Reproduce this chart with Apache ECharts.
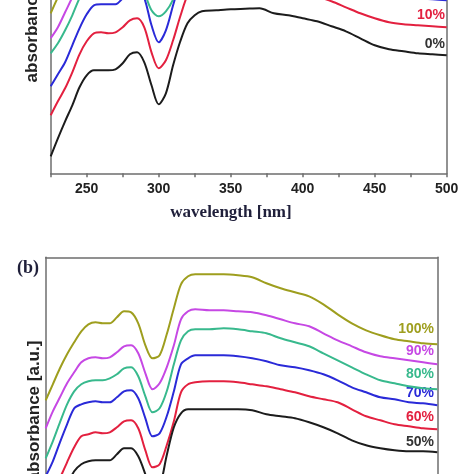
<!DOCTYPE html>
<html><head><meta charset="utf-8">
<script src="https://cdn.jsdelivr.net/npm/echarts@6/dist/echarts.min.js"></script>
<style>html,body{margin:0;padding:0;background:#fff}#c{width:474px;height:474px}</style>
</head><body><div id="c"></div>
<script>
// wavelengths [nm] shared by all curves
const wavelengths = [225,230,235,240,245,250,255,260,265,270,275,280,285,290,295,300,305,310,315,320,325,330,340,350,360,370,380,390,400,410,420,430,440,450,460,470,480,490,500];
const xTicks = [250,300,350,400,450,500];

// panel (a)
const a0  = [0.17,0.35,0.52,0.68,0.86,0.98,1.03,1.03,1.03,1.04,1.10,1.19,1.21,1.11,0.88,0.69,0.80,1.08,1.32,1.50,1.58,1.62,1.63,1.64,1.645,1.65,1.60,1.58,1.55,1.52,1.47,1.42,1.35,1.28,1.24,1.22,1.20,1.19,1.18];
const a10 = [0.58,0.72,0.85,1.01,1.19,1.32,1.40,1.41,1.40,1.41,1.46,1.53,1.55,1.46,1.21,1.05,1.13,1.33,1.57,1.78,1.88,1.92,1.94,1.95,1.95,1.95,1.92,1.89,1.84,1.77,1.72,1.66,1.60,1.55,1.51,1.49,1.48,1.47,1.46];
const a20 = [0.87,0.99,1.11,1.28,1.45,1.59,1.68,1.69,1.69,1.69,1.75,1.82,1.85,1.75,1.48,1.31,1.43,1.68,1.92,2.08,2.17,2.21,2.23,2.24,2.24,2.24,2.21,2.18,2.13,2.06,2.00,1.94,1.88,1.83,1.79,1.76,1.75,1.74,1.73];
const a30 = [1.20,1.30,1.43,1.58,1.75,1.87,1.95,1.97,1.97,1.98,2.03,2.08,2.05,1.82,1.63,1.57,1.62,1.74,1.97,2.25,2.45,2.49,2.51,2.52,2.52,2.52,2.49,2.46,2.41,2.34,2.28,2.22,2.16,2.11,2.07,2.04,2.03,2.02,2.01];
const a40 = [1.35,1.46,1.61,1.76,1.92,2.04,2.11,2.13,2.13,2.14,2.19,2.26,2.29,2.19,1.96,1.85,1.90,2.06,2.30,2.51,2.62,2.66,2.68,2.69,2.69,2.69,2.66,2.63,2.58,2.51,2.45,2.39,2.33,2.28,2.24,2.21,2.20,2.19,2.18];
const a50 = [1.60,1.76,1.90,2.05,2.20,2.32,2.39,2.41,2.41,2.42,2.47,2.54,2.57,2.47,2.24,2.10,2.16,2.34,2.58,2.79,2.90,2.94,2.96,2.97,2.97,2.97,2.94,2.91,2.86,2.79,2.73,2.67,2.61,2.56,2.52,2.49,2.48,2.47,2.46];

// panel (b)
const b50  = [0.70,0.88,1.05,1.22,1.36,1.43,1.46,1.47,1.47,1.47,1.53,1.59,1.59,1.51,1.33,1.12,1.20,1.52,1.80,1.94,1.98,1.98,1.98,1.98,1.98,1.97,1.93,1.91,1.89,1.85,1.80,1.74,1.67,1.62,1.59,1.57,1.56,1.56,1.55];
const b60  = [0.97,1.13,1.29,1.45,1.60,1.71,1.73,1.75,1.74,1.75,1.80,1.86,1.87,1.79,1.57,1.40,1.43,1.62,1.86,2.15,2.23,2.25,2.26,2.26,2.25,2.23,2.21,2.18,2.15,2.11,2.08,2.05,1.98,1.91,1.87,1.83,1.81,1.79,1.78];
const b70  = [1.31,1.46,1.65,1.83,1.99,2.03,2.05,2.06,2.05,2.05,2.10,2.16,2.17,2.09,1.89,1.71,1.74,1.91,2.16,2.43,2.49,2.52,2.52,2.52,2.51,2.49,2.46,2.42,2.40,2.37,2.33,2.27,2.20,2.15,2.10,2.08,2.05,2.04,2.02];
const b80  = [1.49,1.66,1.85,2.03,2.16,2.23,2.26,2.27,2.27,2.29,2.33,2.39,2.40,2.31,2.11,1.95,1.99,2.16,2.43,2.67,2.76,2.78,2.78,2.79,2.78,2.76,2.74,2.69,2.65,2.61,2.54,2.47,2.40,2.33,2.27,2.24,2.21,2.19,2.18];
const b90  = [1.79,1.96,2.10,2.24,2.35,2.45,2.49,2.50,2.49,2.50,2.55,2.61,2.62,2.54,2.34,2.18,2.24,2.40,2.62,2.88,2.96,2.98,2.97,2.97,2.96,2.95,2.92,2.88,2.84,2.81,2.74,2.67,2.61,2.55,2.51,2.49,2.47,2.45,2.43];
const b100 = [2.07,2.23,2.39,2.53,2.65,2.76,2.83,2.85,2.84,2.84,2.90,2.96,2.95,2.84,2.62,2.49,2.52,2.73,2.99,3.23,3.31,3.33,3.33,3.33,3.32,3.30,3.24,3.19,3.15,3.11,3.03,2.93,2.84,2.77,2.72,2.68,2.66,2.64,2.63];

const labelsA = ['0%','10%'];
const labelsB = ['50%','60%','70%','80%','90%','100%'];

const C = {black:'#1c1c1c', red:'#e3203f', blue:'#2a2ad8', green:'#38b98d', magenta:'#c648e4', olive:'#9e9e1e'};

function pts(arr){ return wavelengths.map((w,i)=>[w,arr[i]]); }
function line(arr, color, gi){
  return {type:'line', xAxisIndex:gi, yAxisIndex:gi, data:pts(arr), showSymbol:false, smooth:0.3,
    lineStyle:{color:color, width:2}, clip:true, silent:true, animation:false};
}

const chart = echarts.init(document.getElementById('c'), null, {renderer:'canvas'});
const frame = '#6e6e6e';
const frameLine = {show:true, onZero:false, lineStyle:{color:frame, width:1.5}};
const hidden = {axisTick:{show:false}, axisLabel:{show:false}, splitLine:{show:false}};
chart.setOption({
  animation:false,
  backgroundColor:'#fff',
  grid:[
    {left:50.7, right:27.3, top:0, bottom:300.7, show:false},
    {left:45.7, right:36.7, top:257.3, bottom:0, show:false}
  ],
  xAxis:[
    {gridIndex:0, type:'value', min:225, max:500, interval:25, position:'bottom',
      axisLine:frameLine,
      axisTick:{show:true, length:4, inside:false, lineStyle:{color:frame, width:1.5}},
      splitLine:{show:false},
      axisLabel:{margin:9, color:'#222', fontFamily:'Liberation Sans, Arial', fontWeight:'bold', fontSize:14,
        formatter:v => xTicks.indexOf(v) >= 0 ? String(v) : ''}},
    Object.assign({gridIndex:1, type:'value', min:225, max:500, interval:25, position:'top', axisLine:frameLine}, hidden)
  ],
  yAxis:[
    Object.assign({gridIndex:0, type:'value', min:0, max:1.733, position:'left', axisLine:frameLine}, hidden),
    Object.assign({gridIndex:1, type:'value', min:1.333, max:3.5, position:'left', axisLine:frameLine}, hidden),
    Object.assign({gridIndex:0, type:'value', min:0, max:1, position:'right', axisLine:frameLine}, hidden),
    Object.assign({gridIndex:1, type:'value', min:0, max:1, position:'right', axisLine:frameLine}, hidden)
  ],
  series:[
    line(a50, C.olive, 0), line(a40, C.magenta, 0), line(a30, C.green, 0),
    line(a20, C.blue, 0), line(a10, C.red, 0), line(a0, C.black, 0),
    line(b100, C.olive, 1), line(b90, C.magenta, 1), line(b80, C.green, 1),
    line(b70, C.blue, 1), line(b60, C.red, 1), line(b50, C.black, 1)
  ],
  graphic:[
    {type:'text', x:231, y:213, style:{text:'wavelength [nm]', font:'bold 17px "Liberation Serif", "Times New Roman", serif', fill:'#1f1f3a', align:'center', verticalAlign:'middle'}},
    {type:'text', x:32, y:12, rotation:Math.PI/2, style:{text:'absorbance [a.u.]', font:'bold 17px "Liberation Sans", Arial, sans-serif', fill:'#222', align:'center', verticalAlign:'middle'}},
    {type:'text', x:34, y:411, rotation:Math.PI/2, style:{text:'absorbance [a.u.]', font:'bold 17px "Liberation Sans", Arial, sans-serif', fill:'#222', align:'center', verticalAlign:'middle'}},
    {type:'text', x:39, y:268, style:{text:'(b)', font:'bold 18px "Liberation Serif", "Times New Roman", serif', fill:'#1f1f3a', align:'right', verticalAlign:'middle'}},
    {type:'text', x:445, y:15, style:{text:labelsA[1], font:'bold 14px "Liberation Sans", Arial, sans-serif', fill:C.red, align:'right', verticalAlign:'middle'}},
    {type:'text', x:445, y:44, style:{text:labelsA[0], font:'bold 14px "Liberation Sans", Arial, sans-serif', fill:'#333', align:'right', verticalAlign:'middle'}},
    {type:'text', x:434, y:329, style:{text:labelsB[5], font:'bold 14px "Liberation Sans", Arial, sans-serif', fill:C.olive, align:'right', verticalAlign:'middle'}},
    {type:'text', x:434, y:351, style:{text:labelsB[4], font:'bold 14px "Liberation Sans", Arial, sans-serif', fill:C.magenta, align:'right', verticalAlign:'middle'}},
    {type:'text', x:434, y:374, style:{text:labelsB[3], font:'bold 14px "Liberation Sans", Arial, sans-serif', fill:C.green, align:'right', verticalAlign:'middle'}},
    {type:'text', x:434, y:393, style:{text:labelsB[2], font:'bold 14px "Liberation Sans", Arial, sans-serif', fill:C.blue, align:'right', verticalAlign:'middle'}},
    {type:'text', x:434, y:417, style:{text:labelsB[1], font:'bold 14px "Liberation Sans", Arial, sans-serif', fill:C.red, align:'right', verticalAlign:'middle'}},
    {type:'text', x:434, y:442, style:{text:labelsB[0], font:'bold 14px "Liberation Sans", Arial, sans-serif', fill:'#333', align:'right', verticalAlign:'middle'}}
  ]
});
</script></body></html>
